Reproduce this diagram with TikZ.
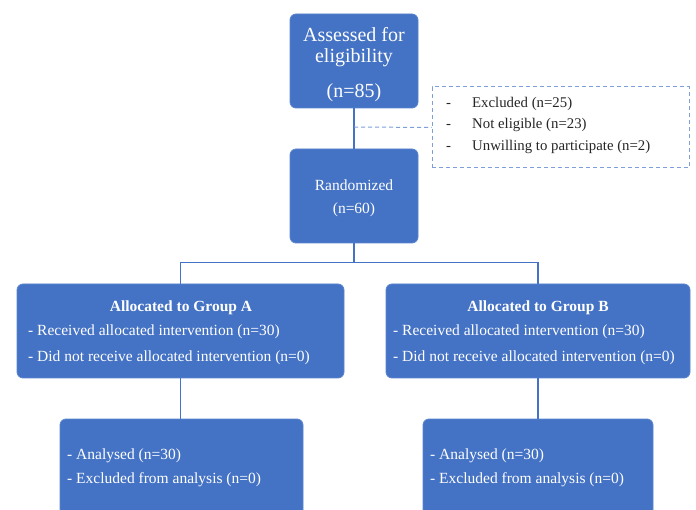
\documentclass[tikz,border=0pt]{standalone}
\usepackage{fontspec}
\setmainfont{Liberation Serif}
\definecolor{boxblue}{HTML}{4472C4}
\definecolor{edgeblue}{HTML}{5B86CF}
\definecolor{dashblue}{HTML}{7F9FD8}
\definecolor{txtgray}{HTML}{262626}
\tikzset{
  bluebox/.style={draw=edgeblue, line width=0.8pt, fill=boxblue, rounded corners=6pt, inner sep=0pt},
  link/.style={draw=boxblue, line width=1.6pt},
  dashlink/.style={draw=dashblue, line width=1pt, dash pattern=on 4pt off 3pt},
  wtxt/.style={text=white, inner sep=0pt},
  btxt/.style={text=txtgray, inner sep=0pt, font=\fontsize{14.8}{16}\selectfont},
  gtxt/.style={wtxt, anchor=mid west, font=\fontsize{15.5}{17}\selectfont},
}
\begin{document}
\begin{tikzpicture}[x=1pt,y=-1pt]
\useasboundingbox (0,0) rectangle (696,510);
\fill[white] (0,0) rectangle (696,510);
% boxes
\node[bluebox, minimum width=128pt, minimum height=94pt] (b1) at (354,61) {};
\node[bluebox, minimum width=128pt, minimum height=94pt] (b2) at (354,196) {};
\node[draw=dashblue, line width=1pt, dash pattern=on 4pt off 3pt, minimum width=257pt, minimum height=81pt, inner sep=0pt] (ex) at (560.5,127.5) {};
\node[bluebox, minimum width=327pt, minimum height=94pt] (ba) at (180.5,331) {};
\node[bluebox, minimum width=304pt, minimum height=94pt] (bb) at (538,331) {};
\node[bluebox, minimum width=243pt, minimum height=101pt] (ba2) at (181.5,469.5) {};
\node[bluebox, minimum width=230pt, minimum height=101pt] (bb2) at (538,469.5) {};
% connectors
\draw[link] (b1.south) -- (b2.north);
\coordinate (j) at (354,127);
\draw[dashlink] (j) -- (ex.west);
\draw[link] (b2.south) -- ++(0,19) coordinate (s);
\draw[link] (s) -| (ba.north);
\draw[link] (s) -| (bb.north);
\draw[link] (ba.south) -- (ba2.north -| ba.south);
\draw[link] (bb.south) -- (bb2.north);
% texts
\node[wtxt, font=\fontsize{20}{22}\selectfont] (t1a) at (354,35) {Assessed for};
\node[wtxt, font=\fontsize{20}{22}\selectfont] (t1b) at (354,58) {eligibility};
\node[wtxt, font=\fontsize{20}{22}\selectfont] (t1c) at (354,93) {(n=85)};
\node[wtxt, font=\fontsize{15.5}{17}\selectfont] (t2a) at (354,185) {Randomized};
\node[wtxt, font=\fontsize{15.5}{17}\selectfont] (t2b) at (354,210) {(n=60)};
\node[btxt, anchor=mid west] (e1) at (446,105) {-};
\node[btxt, anchor=mid west] (e2) at (446,126) {-};
\node[btxt, anchor=mid west] (e3) at (446,148) {-};
\node[btxt, anchor=mid west] (e1t) at (472,105) {Excluded (n=25)};
\node[btxt, anchor=mid west] (e2t) at (472,126) {Not eligible (n=23)};
\node[btxt, anchor=mid west] (e3t) at (472,148) {Unwilling to participate (n=2)};
\node[wtxt, font=\fontsize{15.5}{17}\selectfont\bfseries] (tat) at (181,308) {Allocated to Group A};
\node[gtxt] (ta1) at (28,333) {- Received allocated intervention (n=30)};
\node[gtxt] (ta2) at (28,359) {- Did not receive allocated intervention (n=0)};
\node[wtxt, font=\fontsize{15.5}{17}\selectfont\bfseries] (tbt) at (538,308) {Allocated to Group B};
\node[gtxt] (tb1) at (393,333) {- Received allocated intervention (n=30)};
\node[gtxt] (tb2) at (393,359) {- Did not receive allocated intervention (n=0)};
\node[gtxt] (ta3) at (67,457) {- Analysed (n=30)};
\node[gtxt] (ta4) at (67,481) {- Excluded from analysis (n=0)};
\node[gtxt] (tb3) at (430,457) {- Analysed (n=30)};
\node[gtxt] (tb4) at (430,481) {- Excluded from analysis (n=0)};
\end{tikzpicture}
\end{document}
